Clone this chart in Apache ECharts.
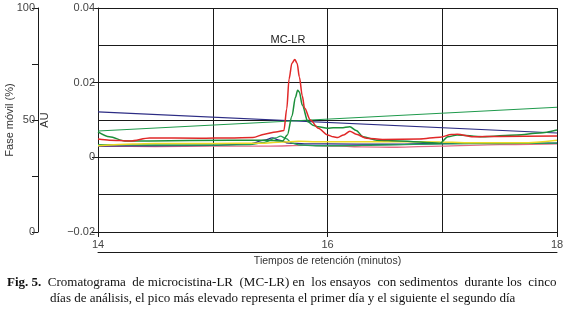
<!DOCTYPE html>
<html>
<head>
<meta charset="utf-8">
<script src="https://cdn.jsdelivr.net/npm/echarts@6/dist/echarts.min.js"></script>
<style>
html,body{margin:0;padding:0;background:#fff;}
#c{width:564px;height:309px;}
</style>
</head>
<body>
<div id="c"></div>
<script>
// Gradient of mobile phase (%), left axis
const gradBlue = [[14.0, 53.6], [18.0, 44.2]];
const gradGreen = [[14.0, 45.1], [18.0, 55.7]];

// Chromatograms (retention time in minutes, AU)
const redDay1 = [[14.00,0.0049],[14.10,0.0046],[14.28,0.0044],[14.45,0.0052],[14.89,0.0051],[15.15,0.0052],[15.35,0.0053],[15.45,0.0062],[15.55,0.0068],[15.62,0.0072],[15.645,0.0130],[15.665,0.0210],[15.69,0.0252],[15.715,0.0262],[15.735,0.0252],[15.755,0.0215],[15.78,0.0165],[15.80,0.0132],[15.85,0.0100],[15.92,0.0078],[16.00,0.0060],[16.05,0.0055],[16.09,0.0053],[16.14,0.0060],[16.195,0.0070],[16.25,0.0062],[16.34,0.0051],[16.48,0.0048],[16.80,0.0049],[16.98,0.0054],[17.08,0.0061],[17.13,0.0062],[17.27,0.0055],[17.50,0.0056],[18.00,0.0057]];
const greenDay2 = [[14.00,0.0068],[14.10,0.0055],[14.235,0.0044],[14.45,0.0044],[15.15,0.0046],[15.45,0.0046],[15.61,0.0044],[15.65,0.0060],[15.69,0.0110],[15.72,0.0160],[15.74,0.0180],[15.755,0.0175],[15.78,0.0140],[15.83,0.0095],[15.88,0.0085],[15.92,0.0082],[16.00,0.0078],[16.05,0.0079],[16.12,0.0079],[16.195,0.0082],[16.25,0.0072],[16.31,0.0055],[16.43,0.0046],[16.63,0.0044],[16.98,0.0038],[17.05,0.0055],[17.13,0.0060],[17.35,0.0055],[17.65,0.0060],[17.85,0.0065],[18.00,0.0073]];
const tealDay3 = [[14.00,0.0034],[14.45,0.0033],[15.00,0.0033],[15.32,0.0034],[15.45,0.0040],[15.55,0.0052],[15.59,0.0057],[15.64,0.0050],[15.69,0.0038],[15.76,0.0033],[15.90,0.0031],[16.10,0.0031],[16.50,0.0033],[17.00,0.0036],[17.50,0.0037],[18.00,0.0038]];
const navyDay4 = [[14.00,0.0030],[14.45,0.0031],[15.00,0.0032],[15.32,0.0036],[15.45,0.0046],[15.52,0.0052],[15.58,0.0046],[15.66,0.0038],[15.80,0.0036],[16.00,0.0036],[16.50,0.0035],[17.00,0.0037],[17.50,0.0038],[18.00,0.0038]];
const yellowDay5 = [[14.00,0.0031],[14.30,0.0036],[14.50,0.0037],[15.00,0.0037],[15.45,0.0038],[15.60,0.0041],[15.75,0.0043],[15.90,0.0042],[16.05,0.0042],[16.50,0.0042],[16.98,0.0041],[17.30,0.0039],[17.70,0.0039],[18.00,0.0046]];
const pinkBlank = [[14.00,0.0030],[14.50,0.0029],[15.00,0.0030],[15.50,0.0030],[15.80,0.0032],[16.10,0.0030],[16.30,0.0028],[16.60,0.0027],[16.98,0.0030],[17.50,0.0034],[18.00,0.0036]];

const peakLabel = {text: 'MC-LR', coord: [15.655, 0.0314]};
const xTitle = 'Tiempos de retención (minutos)';
const yLeftTitle = 'Fase móvil (%)';
const yAuTitle = 'AU';
const captionBold = 'Fig. 5.';
const captionLine1 = '  Cromatograma  de microcistina-LR  (MC-LR) en  los ensayos  con sedimentos  durante los  cinco';
const captionLine2 = 'días de análisis, el pico más elevado representa el primer día y el siguiente el segundo día';

const chart = echarts.init(document.getElementById('c'), null, {renderer: 'canvas'});
const ink = '#1a1a1a';
const txt = '#444';
const sans = 'Liberation Sans, Arial, sans-serif';
const serif = 'Liberation Serif, Times New Roman, serif';

function ln(data, color, width, yIdx) {
  return {
    type: 'line', data: data, xAxisIndex: 0, yAxisIndex: yIdx,
    showSymbol: false, symbol: 'none', smooth: 0.3, smoothMonotone: 'x',
    lineStyle: {color: color, width: width}, itemStyle: {color: color},
    z: 3
  };
}

const redSeries = ln(redDay1, '#e02828', 1.5, 1);
redSeries.markPoint = {
  symbol: 'circle', symbolSize: 0, silent: true,
  data: [{coord: peakLabel.coord, name: peakLabel.text}],
  label: {show: true, position: 'inside', formatter: peakLabel.text, color: '#222', fontSize: 11, fontFamily: sans}
};

chart.setOption({
  animation: false,
  backgroundColor: '#fff',
  grid: {left: 98, right: 7, top: 8, bottom: 77, containLabel: false, outerBoundsMode: 'none'},
  xAxis: [{
    type: 'value', min: 14, max: 18, interval: 2,
    axisLine: {show: true, onZero: false, lineStyle: {color: ink, width: 1}},
    axisTick: {show: true, length: 5, lineStyle: {color: ink}},
    axisLabel: {color: txt, fontSize: 11, fontFamily: sans, margin: 7},
    splitLine: {show: true, lineStyle: {color: ink, width: 1}},
    minorTick: {show: false, splitNumber: 2},
    minorSplitLine: {show: true, lineStyle: {color: ink, width: 1}},
    name: xTitle, nameLocation: 'middle', nameGap: 24, nameMoveOverlap: false,
    nameTextStyle: {color: '#333', fontSize: 10.5, fontFamily: sans}
  }, {
    type: 'value', min: 14, max: 18, position: 'bottom', offset: 20,
    axisLine: {show: true, onZero: false, lineStyle: {color: ink, width: 1}},
    axisTick: {show: false}, axisLabel: {show: false}, splitLine: {show: false}
  }],
  yAxis: [{
    type: 'value', min: 0, max: 100, interval: 50, position: 'left', offset: 60,
    axisLine: {show: true, onZero: false, lineStyle: {color: ink, width: 1}},
    axisTick: {show: true, length: 6, lineStyle: {color: ink}},
    minorTick: {show: true, splitNumber: 2, length: 6, lineStyle: {color: ink}},
    axisLabel: {color: txt, fontSize: 11, fontFamily: sans, margin: 3},
    splitLine: {show: false},
    name: yLeftTitle, nameLocation: 'middle', nameGap: 23, nameRotate: 90, nameMoveOverlap: false,
    nameTextStyle: {color: '#333', fontSize: 11, fontFamily: sans}
  }, {
    type: 'value', min: -0.02, max: 0.04, interval: 0.02, position: 'left', offset: 0,
    axisLine: {show: true, onZero: false, lineStyle: {color: ink, width: 1}},
    axisTick: {show: true, length: 6, lineStyle: {color: ink}},
    minorTick: {show: false, splitNumber: 2},
    minorSplitLine: {show: true, lineStyle: {color: ink, width: 1}},
    axisLabel: {color: txt, fontSize: 11, fontFamily: sans, margin: 3,
      formatter: function (v) {
        if (Math.abs(v) < 1e-9) return '0';
        return (v < 0 ? '\u2212' : '') + Math.abs(v).toFixed(2);
      }},
    splitLine: {show: true, lineStyle: {color: ink, width: 1}},
    name: yAuTitle, nameLocation: 'middle', nameGap: 48, nameRotate: 90, nameMoveOverlap: false,
    nameTextStyle: {color: '#333', fontSize: 11, fontFamily: sans}
  }],
  series: [
    ln(gradBlue, '#2c2c84', 1.2, 0),
    ln(gradGreen, '#1f9a4c', 1.2, 0),
    ln(pinkBlank, '#e26a86', 1.3, 1),
    ln(navyDay4, '#2c2c84', 1.3, 1),
    ln(tealDay3, '#23a05a', 1.3, 1),
    ln(yellowDay5, '#ecd824', 1.5, 1),
    ln(greenDay2, '#1b8f3a', 1.5, 1),
    redSeries
  ],
  graphic: [{
    type: 'text', left: 7, top: 276,
    style: {
      text: '{b|' + captionBold + '}' + captionLine1,
      font: '13px ' + serif, fill: '#111',
      rich: {b: {fontWeight: 'bold', fontFamily: serif, fontSize: 13, fill: '#111'}}
    }
  }, {
    type: 'text', left: 50, top: 292,
    style: {text: captionLine2, font: '13px ' + serif, fill: '#111'}
  }]
});
</script>
</body>
</html>
